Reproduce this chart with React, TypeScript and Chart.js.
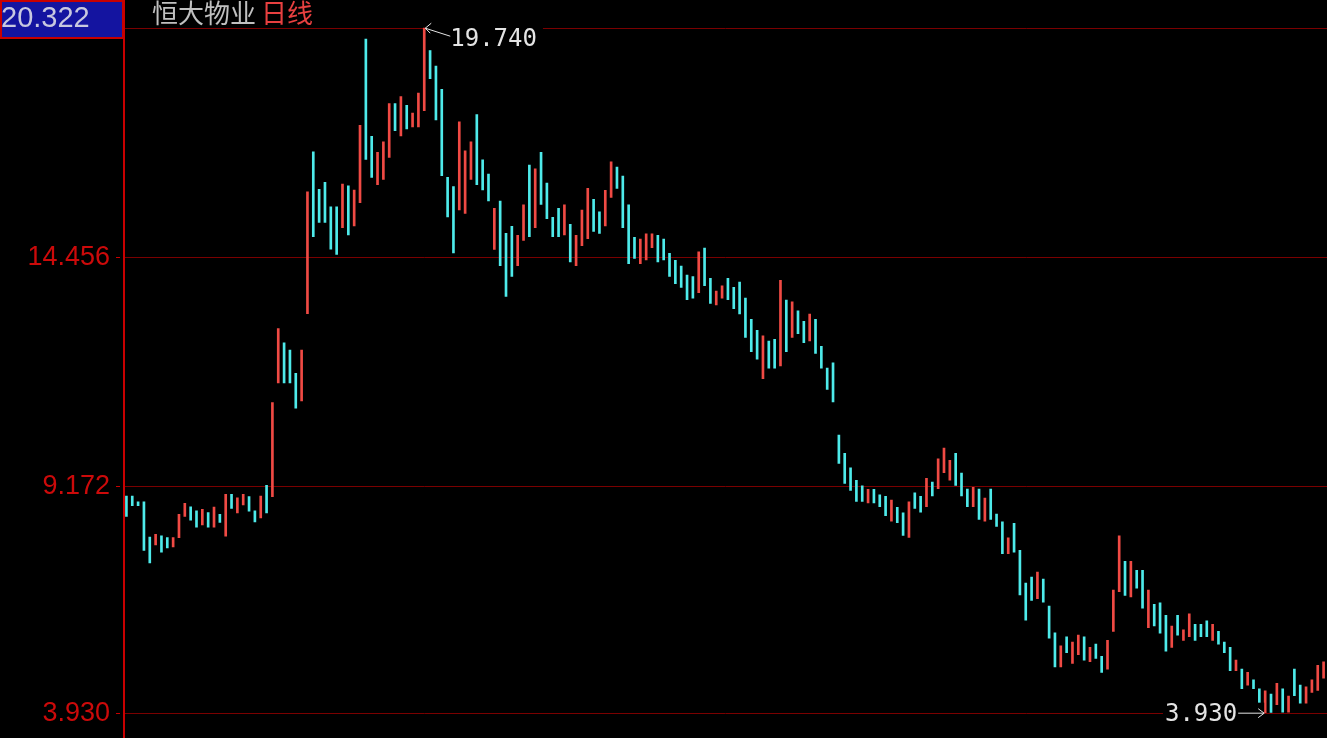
import { useEffect, useRef } from 'react';
import { Chart, registerables } from 'chart.js';

Chart.register(...registerables);

// ---- data ----
const titleName = '恒大物业';
const titlePeriod = '日线';

const highs = [
  8.934, 8.934, 8.802, 8.802, 7.984, 8.049, 8.017, 7.975, 7.975, 8.511,
  8.767, 8.687, 8.594, 8.629, 8.553, 8.677, 8.511, 8.975, 8.975, 8.892,
  8.975, 8.924, 8.594, 8.934, 9.181, 11.091, 12.801, 12.470, 12.304, 11.768,
  12.304, 15.958, 16.885, 16.016, 16.182, 15.612, 15.612, 16.141, 16.099, 16.002,
  17.497, 19.490, 17.243, 16.873, 17.118, 17.996, 17.996, 18.158, 17.959, 17.781,
  18.243, 19.740, 19.451, 18.867, 18.328, 16.296, 16.079, 17.580, 16.910, 17.118,
  17.742, 16.702, 16.372, 15.580, 15.748, 15.002, 15.164, 14.956, 15.663, 16.580,
  16.494, 16.873, 16.164, 15.372, 15.580, 15.663, 15.210, 14.956, 15.540, 16.042,
  15.787, 15.501, 15.995, 16.656, 16.534, 16.326, 15.663, 14.910, 14.870, 14.993,
  14.993, 14.956, 14.870, 14.540, 14.378, 14.247, 14.039, 14.000, 14.577, 14.662,
  13.963, 13.669, 13.792, 13.963, 13.755, 13.877, 13.507, 13.015, 12.761, 12.637,
  12.514, 12.553, 13.916, 13.461, 13.422, 13.214, 12.969, 13.138, 13.015, 12.392,
  11.890, 12.013, 10.343, 9.920, 9.587, 9.296, 9.172, 9.088, 9.088, 8.964,
  8.927, 8.841, 8.673, 8.548, 8.802, 9.010, 8.927, 9.343, 9.257, 9.795,
  10.042, 9.758, 9.920, 9.465, 9.095, 9.135, 9.095, 8.887, 9.095, 8.518,
  8.340, 7.970, 8.303, 7.679, 6.924, 7.063, 7.178, 7.016, 6.393, 5.776,
  5.476, 5.684, 5.561, 5.723, 5.684, 5.439, 5.515, 5.231, 5.600, 6.762,
  8.017, 7.425, 7.425, 7.217, 7.217, 6.762, 6.432, 6.469, 6.178, 5.931,
  6.178, 5.845, 6.215, 5.970, 5.970, 6.053, 5.970, 5.808, 5.561, 5.439,
  5.145, 4.937, 4.861, 4.690, 4.482, 4.436, 4.360, 4.607, 4.482, 4.314,
  4.937, 4.568, 4.529, 4.690, 5.023, 5.106,
];

const lows = [
  8.462, 8.710, 8.710, 7.677, 7.388, 7.802, 7.635, 7.735, 7.760, 7.975,
  8.462, 8.379, 8.215, 8.264, 8.215, 8.215, 8.322, 8.007, 8.645, 8.546,
  8.726, 8.587, 8.338, 8.430, 8.546, 8.918, 11.544, 11.544, 11.544, 10.966,
  11.131, 13.149, 14.926, 15.256, 15.256, 14.637, 14.512, 15.134, 14.967, 15.171,
  15.709, 16.711, 16.296, 16.125, 16.249, 16.758, 17.372, 17.250, 17.411, 17.458,
  17.458, 17.834, 18.573, 17.619, 16.333, 15.379, 14.547, 15.540, 15.464, 16.249,
  16.125, 16.002, 15.748, 14.632, 14.254, 13.547, 14.009, 14.254, 14.840, 14.924,
  15.131, 15.672, 15.339, 14.924, 14.924, 14.963, 14.339, 14.254, 14.716, 14.877,
  15.048, 15.002, 15.171, 15.834, 16.042, 15.131, 14.300, 14.425, 14.300, 14.385,
  14.669, 14.339, 14.385, 14.009, 13.838, 13.755, 13.468, 13.507, 13.630, 13.792,
  13.385, 13.346, 13.507, 13.468, 13.260, 13.138, 12.600, 12.267, 12.098, 11.643,
  11.890, 11.890, 11.937, 12.267, 12.600, 12.683, 12.475, 12.514, 12.230, 11.890,
  11.398, 11.105, 9.689, 9.227, 9.065, 8.811, 8.811, 8.772, 8.772, 8.687,
  8.479, 8.356, 8.317, 8.026, 7.980, 8.650, 8.564, 8.687, 8.934, 9.102,
  9.472, 9.303, 9.181, 8.934, 8.687, 8.687, 8.395, 8.356, 8.395, 8.234,
  7.601, 7.601, 7.640, 6.647, 6.069, 6.524, 6.561, 6.485, 5.653, 4.984,
  4.984, 5.314, 5.069, 5.268, 5.145, 5.106, 5.185, 4.861, 4.937, 5.808,
  6.723, 6.640, 6.601, 6.808, 6.346, 5.891, 5.931, 5.769, 5.353, 5.439,
  5.723, 5.600, 5.684, 5.600, 5.684, 5.684, 5.600, 5.515, 5.314, 4.898,
  4.898, 4.482, 4.568, 4.482, 3.940, 3.930, 3.935, 4.113, 3.944, 3.944,
  4.321, 4.152, 4.152, 4.399, 4.445, 4.729,
];

// 1 = close above open (red), 0 = close below open (cyan)
const ups = [
  0, 0, 0, 0, 0, 1, 0, 0, 1, 1,
  1, 0, 0, 1, 0, 1, 0, 1, 0, 1,
  1, 0, 0, 1, 0, 1, 1, 0, 0, 0,
  1, 1, 0, 0, 0, 0, 0, 1, 0, 1,
  1, 0, 0, 1, 1, 1, 0, 1, 0, 1,
  1, 1, 0, 0, 0, 0, 0, 1, 1, 1,
  0, 0, 0, 1, 0, 0, 0, 1, 1, 0,
  1, 0, 0, 0, 0, 1, 0, 1, 1, 1,
  0, 0, 1, 1, 0, 0, 0, 0, 1, 1,
  1, 0, 0, 0, 0, 0, 0, 0, 1, 0,
  0, 1, 1, 0, 0, 0, 0, 0, 0, 1,
  0, 0, 1, 0, 1, 0, 0, 1, 0, 0,
  0, 0, 0, 0, 0, 0, 0, 1, 0, 0,
  0, 1, 0, 0, 1, 0, 0, 1, 0, 1,
  1, 1, 0, 0, 0, 1, 0, 1, 0, 0,
  0, 1, 0, 0, 0, 0, 1, 0, 0, 0,
  1, 0, 1, 1, 0, 1, 0, 0, 1, 1,
  1, 0, 1, 0, 0, 1, 0, 0, 0, 1,
  0, 1, 1, 0, 0, 0, 1, 0, 0, 0,
  1, 0, 1, 0, 0, 1, 0, 1, 0, 1,
  0, 0, 1, 1, 1, 1,
];

const gridLevels = [19.74, 14.456, 9.172, 3.93];
const labeledLevels = [14.456, 9.172, 3.93];
const axisTop = 20.322;
const axisBottom = 3.345;

// ---- styling ----
const W = 1327;
const H = 738;
const UP_COLOR = '#f04a44';
const DOWN_COLOR = '#4eeaea';
const AXIS_RED = '#c80000';
const GRID_RED = '#7a0000';
const LABEL_RED = '#cc0a0a';
const NOTE_COLOR = '#e4e4e4';
const AXIS_X = 124;

const fmt = (v: number) => v.toFixed(3);

const decor = {
  id: 'decor',
  beforeDraw(chart: any) {
    const { ctx } = chart;
    ctx.save();
    ctx.fillStyle = '#000';
    ctx.fillRect(0, 0, chart.width, chart.height);
    ctx.restore();
  },
  beforeDatasetsDraw(chart: any) {
    const { ctx } = chart;
    const ys = chart.scales.y;
    ctx.save();
    ctx.strokeStyle = GRID_RED;
    ctx.lineWidth = 1;
    gridLevels.forEach((v) => {
      const py = Math.round(ys.getPixelForValue(v)) + 0.5;
      ctx.beginPath();
      ctx.moveTo(AXIS_X, py);
      ctx.lineTo(chart.width, py);
      ctx.stroke();
    });
    ctx.restore();
  },
  afterDatasetsDraw(chart: any) {
    const { ctx } = chart;
    const ys = chart.scales.y;
    const xs = chart.scales.x;
    ctx.save();

    // max annotation
    const maxV = Math.max(...highs);
    const iMax = highs.indexOf(maxV);
    const mx = xs.getPixelForValue(iMax);
    const my = ys.getPixelForValue(maxV);
    ctx.font = '24px "DejaVu Sans Mono"';
    ctx.textBaseline = 'middle';
    ctx.textAlign = 'left';
    const maxText = fmt(maxV);
    const maxW = ctx.measureText(maxText).width;
    ctx.fillStyle = '#000';
    ctx.fillRect(mx + 2, my - 2, maxW + 30, 24);
    ctx.strokeStyle = NOTE_COLOR;
    ctx.lineWidth = 1;
    ctx.beginPath();
    ctx.moveTo(mx + 1, my);
    ctx.lineTo(mx + 26, my + 8);
    ctx.moveTo(mx + 1, my);
    ctx.lineTo(mx + 7, my - 5);
    ctx.moveTo(mx + 1, my);
    ctx.lineTo(mx + 6, my + 5);
    ctx.stroke();
    ctx.fillStyle = NOTE_COLOR;
    ctx.fillText(maxText, mx + 26, my + 12);

    // min annotation
    const minV = Math.min(...lows);
    const iMin = lows.indexOf(minV);
    const nx = xs.getPixelForValue(iMin);
    const ny = ys.getPixelForValue(minV);
    const minText = fmt(minV);
    const minW = ctx.measureText(minText).width;
    ctx.fillStyle = '#000';
    ctx.fillRect(nx - 30 - minW, ny - 10, minW + 29, 24);
    ctx.strokeStyle = NOTE_COLOR;
    ctx.beginPath();
    ctx.moveTo(nx - 27, ny + 0.5);
    ctx.lineTo(nx - 1, ny + 0.5);
    ctx.moveTo(nx - 1, ny + 0.5);
    ctx.lineTo(nx - 7, ny - 4);
    ctx.moveTo(nx - 1, ny + 0.5);
    ctx.lineTo(nx - 7, ny + 5);
    ctx.stroke();
    ctx.fillStyle = NOTE_COLOR;
    ctx.textAlign = 'right';
    ctx.fillText(minText, nx - 28, ny + 2);

    // axis line
    ctx.fillStyle = AXIS_RED;
    ctx.fillRect(AXIS_X - 1, 0, 2, chart.height);

    // y labels + small ticks
    ctx.font = '27px "Liberation Sans"';
    ctx.textAlign = 'right';
    ctx.textBaseline = 'middle';
    labeledLevels.forEach((v) => {
      const py = Math.round(ys.getPixelForValue(v)) + 0.5;
      ctx.strokeStyle = AXIS_RED;
      ctx.lineWidth = 1;
      ctx.beginPath();
      ctx.moveTo(AXIS_X - 8, py);
      ctx.lineTo(AXIS_X - 4, py);
      ctx.stroke();
      ctx.fillStyle = LABEL_RED;
      ctx.fillText(fmt(v), AXIS_X - 14, py);
    });

    // top value box
    ctx.fillStyle = '#1414a0';
    ctx.fillRect(0, 0, AXIS_X - 1, 38);
    ctx.strokeStyle = AXIS_RED;
    ctx.lineWidth = 2;
    ctx.strokeRect(1, 1, AXIS_X - 2, 37);
    ctx.font = '29px "Liberation Sans"';
    ctx.fillStyle = '#c8c8e0';
    ctx.textAlign = 'left';
    ctx.fillText(fmt(axisTop), 1, 19);

    // title
    ctx.font = '26px "Noto Sans CJK SC"';
    ctx.textBaseline = 'middle';
    ctx.fillStyle = '#c0c0c0';
    ctx.fillText(titleName, 152, 13);
    const tw = ctx.measureText(titleName).width;
    ctx.fillStyle = '#e84040';
    ctx.fillText(titlePeriod, 152 + tw + 5, 13);

    ctx.restore();
  },
};

export default function App() {
  const ref = useRef<HTMLCanvasElement>(null);
  useEffect(() => {
    document.body.style.margin = '0';
    document.body.style.background = '#000';
    const labels = highs.map((_, i) => String(i + 1));
    const chart = new Chart(ref.current as HTMLCanvasElement, {
      type: 'bar',
      data: {
        labels,
        datasets: [
          {
            data: lows.map((l, i) => [l, highs[i]]) as any,
            backgroundColor: ups.map((u) => (u ? UP_COLOR : DOWN_COLOR)),
            borderWidth: 0,
            barThickness: 2,
          },
        ],
      },
      options: {
        responsive: false,
        animation: false,
        devicePixelRatio: 1,
        layout: { padding: { left: 123.5, right: 0.5, top: 3, bottom: 0 } },
        scales: {
          x: { type: 'category', display: false, offset: true, grid: { display: false } },
          y: { display: false, min: axisBottom, max: axisTop },
        },
        plugins: { legend: { display: false }, tooltip: { enabled: false } },
      },
      plugins: [decor],
    });
    return () => chart.destroy();
  }, []);
  return (
    <canvas
      ref={ref}
      width={W}
      height={H}
      style={{ display: 'block', width: W, height: H }}
    />
  );
}
